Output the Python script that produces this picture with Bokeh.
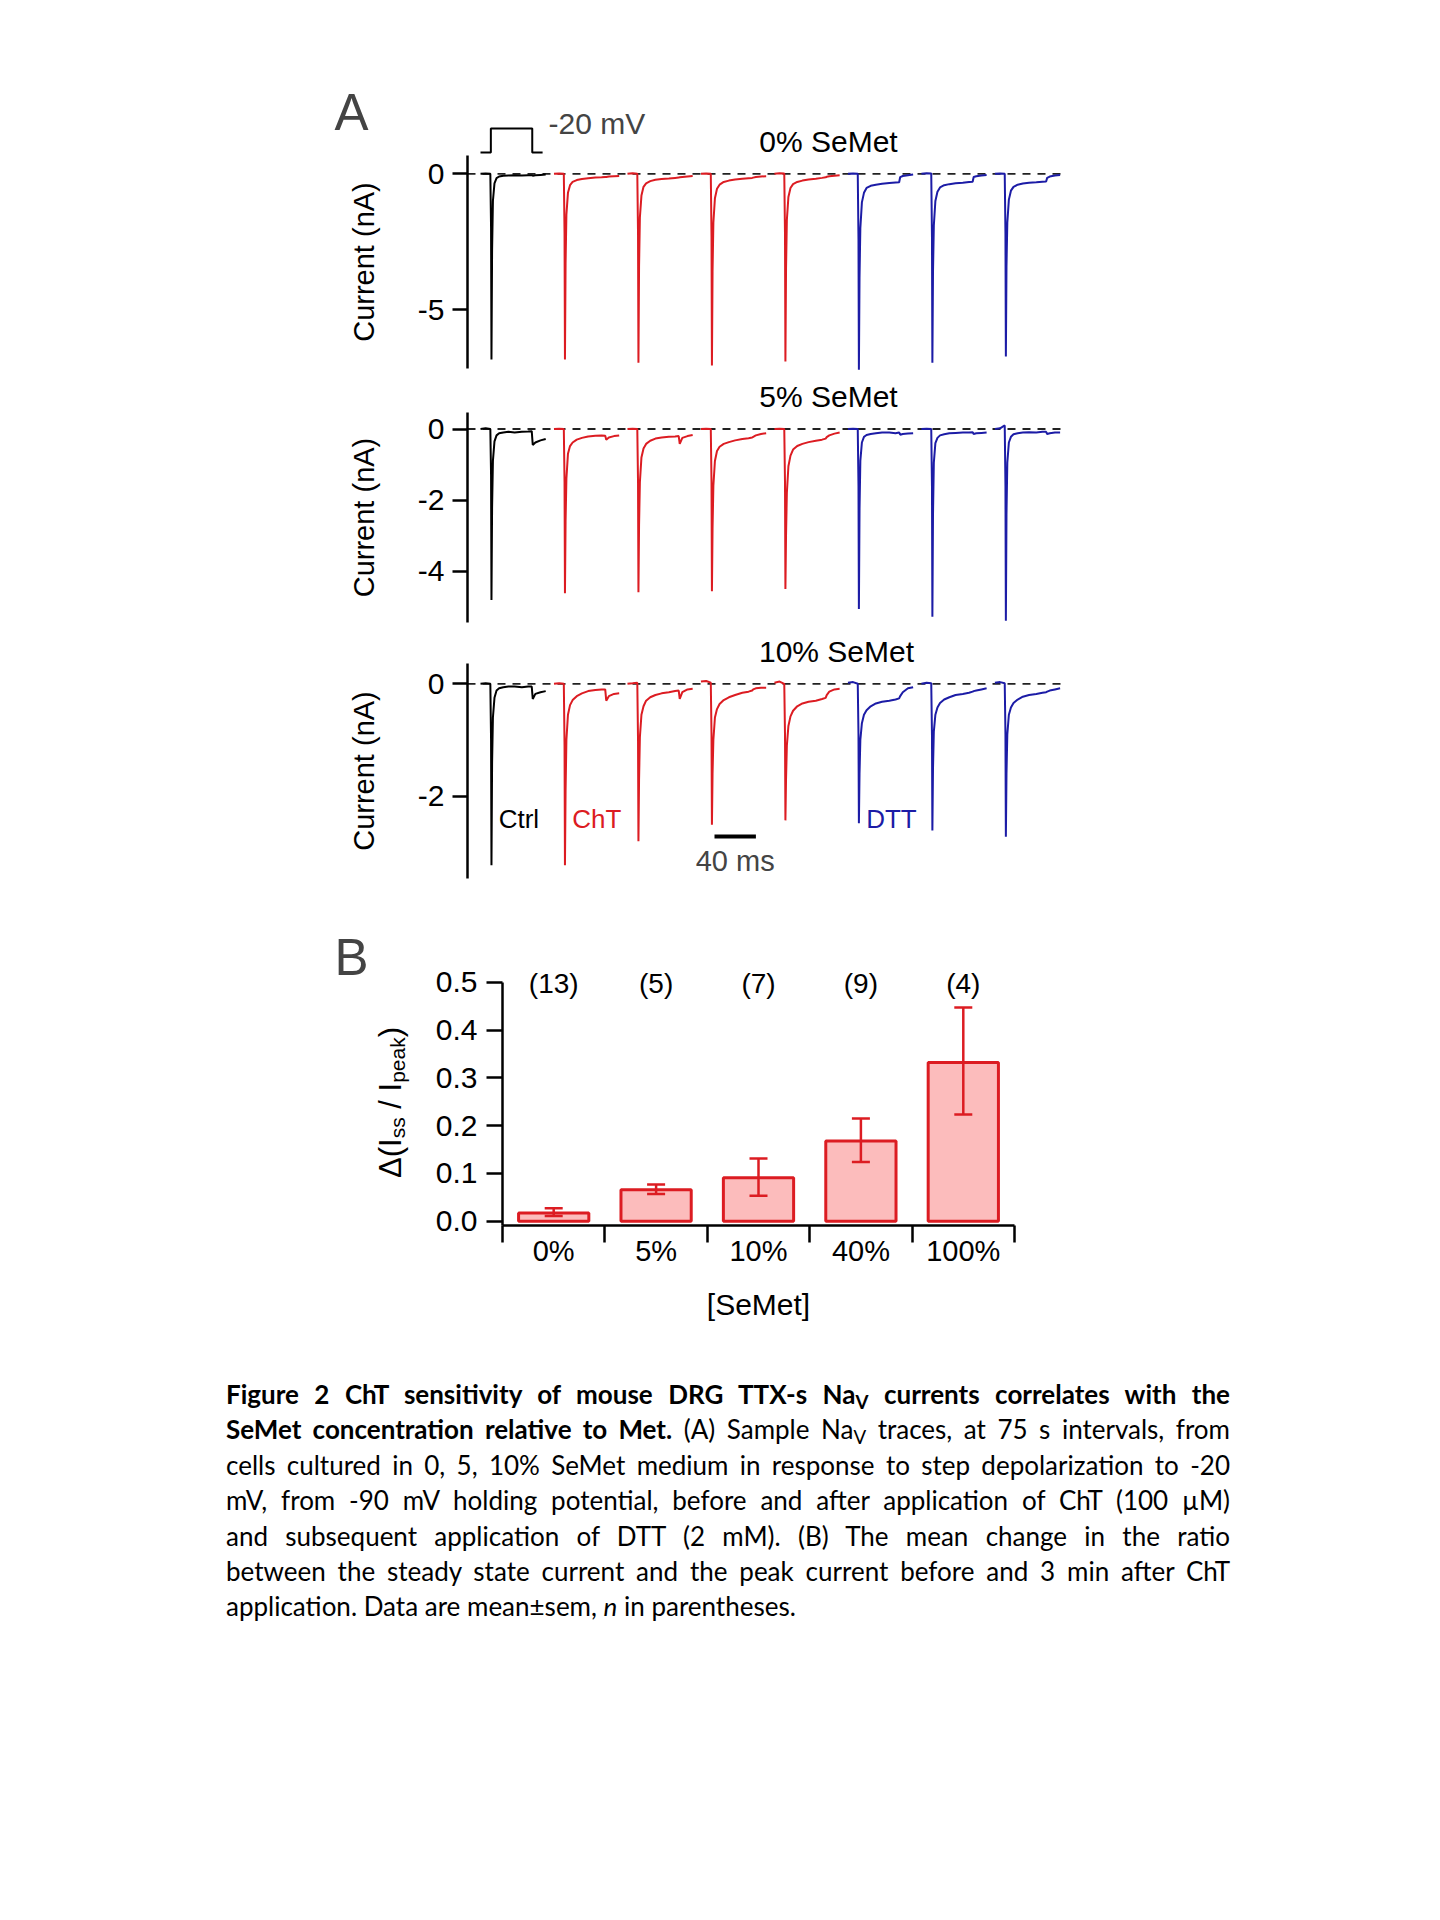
from math import pi
from bokeh.plotting import figure
from bokeh.models import (Range1d, FixedTicker, PrintfTickFormatter, Span, Label,
                          Whisker, TeeHead, ColumnDataSource, Div)
from bokeh.layouts import row
from bokeh.embed import file_html
from bokeh.resources import INLINE
from bokeh.core.properties import value

# ------------------------------------------------------------------ data
# time base (ms) of every sweep, relative to the start of the sweep
trace_t = [0, 5, 9.5, 10.2, 10.6, 11.2, 12, 13.5, 15.5, 18, 22, 27, 33, 40, 46, 49.5, 50.5, 53, 58, 63]
trace_spacing_ms = 71
conditions = ["Ctrl", "ChT", "ChT", "ChT", "ChT", "DTT", "DTT", "DTT"]

# current (nA) of the 8 sweeps, 0 % SeMet
semet_0 = [
    [0.0, 0.01, 0.0, -2.0, -6.83, -2.8, -1.0, -0.35, -0.16, -0.10, -0.07, -0.06, -0.05, -0.06, -0.05, -0.05, -0.07, -0.05, -0.04, -0.03],
    [0.0, 0.01, 0.0, -2.2, -6.83, -3.3, -1.5, -0.70, -0.42, -0.30, -0.23, -0.19, -0.16, -0.14, -0.13, -0.12, -0.12, -0.10, -0.09, -0.08],
    [0.0, 0.02, 0.0, -2.2, -6.95, -3.4, -1.6, -0.80, -0.48, -0.35, -0.27, -0.22, -0.19, -0.17, -0.15, -0.14, -0.13, -0.12, -0.10, -0.08],
    [0.0, 0.01, 0.0, -2.3, -7.05, -3.6, -1.8, -0.90, -0.55, -0.40, -0.30, -0.25, -0.21, -0.18, -0.16, -0.15, -0.14, -0.12, -0.10, -0.09],
    [0.0, 0.02, 0.01, -2.2, -6.90, -3.5, -1.7, -0.85, -0.52, -0.38, -0.30, -0.25, -0.21, -0.18, -0.15, -0.13, -0.11, -0.09, -0.07, -0.05],
    [0.0, 0.01, 0.0, -2.4, -7.20, -3.8, -2.0, -1.05, -0.70, -0.52, -0.44, -0.40, -0.37, -0.34, -0.32, -0.31, -0.12, -0.08, -0.05, -0.03],
    [0.0, 0.02, 0.01, -2.3, -6.95, -3.6, -1.9, -1.00, -0.66, -0.50, -0.42, -0.38, -0.35, -0.33, -0.30, -0.29, -0.12, -0.09, -0.06, -0.04],
    [0.0, 0.01, 0.0, -2.2, -6.72, -3.4, -1.8, -0.95, -0.62, -0.48, -0.40, -0.36, -0.33, -0.31, -0.29, -0.28, -0.15, -0.10, -0.06, -0.04],
]
# 5 % SeMet
semet_5 = [
    [0.0, 0.02, 0.0, -1.3, -4.82, -2.2, -0.90, -0.35, -0.18, -0.12, -0.10, -0.08, -0.10, -0.08, -0.07, -0.06, -0.45, -0.38, -0.32, -0.28],
    [0.0, 0.01, 0.0, -1.5, -4.63, -2.6, -1.40, -0.70, -0.48, -0.38, -0.30, -0.25, -0.21, -0.19, -0.18, -0.19, -0.30, -0.24, -0.20, -0.18],
    [0.0, 0.01, 0.0, -1.5, -4.60, -2.7, -1.50, -0.80, -0.55, -0.42, -0.33, -0.27, -0.24, -0.22, -0.21, -0.20, -0.42, -0.25, -0.20, -0.17],
    [0.0, 0.01, 0.0, -1.5, -4.57, -2.8, -1.60, -0.90, -0.62, -0.50, -0.42, -0.37, -0.32, -0.28, -0.26, -0.24, -0.22, -0.18, -0.14, -0.12],
    [0.0, 0.01, 0.0, -1.5, -4.51, -3.0, -1.80, -1.05, -0.75, -0.58, -0.48, -0.42, -0.37, -0.33, -0.30, -0.27, -0.23, -0.18, -0.13, -0.10],
    [0.0, 0.01, 0.0, -1.6, -5.07, -2.3, -0.90, -0.38, -0.22, -0.17, -0.14, -0.12, -0.10, -0.10, -0.12, -0.10, -0.16, -0.14, -0.13, -0.12],
    [0.0, 0.01, 0.0, -1.6, -5.29, -2.4, -0.95, -0.40, -0.25, -0.18, -0.15, -0.12, -0.11, -0.10, -0.10, -0.09, -0.14, -0.12, -0.11, -0.10],
    [0.0, 0.02, 0.10, -1.6, -5.40, -2.4, -0.95, -0.38, -0.22, -0.15, -0.12, -0.10, -0.09, -0.10, -0.08, -0.08, -0.14, -0.12, -0.10, -0.10],
]
# 10 % SeMet
semet_10 = [
    [0.0, 0.01, 0.0, -1.0, -3.23, -1.4, -0.60, -0.25, -0.12, -0.08, -0.06, -0.05, -0.05, -0.06, -0.05, -0.05, -0.27, -0.18, -0.15, -0.13],
    [0.0, 0.01, 0.0, -1.1, -3.23, -1.9, -1.00, -0.55, -0.38, -0.29, -0.22, -0.17, -0.13, -0.11, -0.10, -0.10, -0.30, -0.22, -0.18, -0.17],
    [0.0, 0.01, 0.02, -1.0, -2.80, -1.7, -0.95, -0.55, -0.40, -0.30, -0.24, -0.20, -0.17, -0.15, -0.13, -0.12, -0.27, -0.15, -0.10, -0.09],
    [0.04, 0.05, 0.02, -0.9, -2.51, -1.6, -1.00, -0.60, -0.45, -0.36, -0.29, -0.24, -0.20, -0.16, -0.14, -0.12, -0.10, -0.08, -0.07, -0.07],
    [0.02, 0.04, 0.0, -0.9, -2.43, -1.7, -1.10, -0.75, -0.58, -0.48, -0.40, -0.35, -0.32, -0.30, -0.27, -0.25, -0.20, -0.14, -0.10, -0.09],
    [0.02, 0.03, 0.0, -0.9, -2.48, -1.6, -1.00, -0.70, -0.55, -0.47, -0.40, -0.35, -0.32, -0.30, -0.28, -0.26, -0.22, -0.15, -0.08, -0.06],
    [0.0, 0.02, 0.01, -0.9, -2.61, -1.5, -0.85, -0.55, -0.42, -0.34, -0.28, -0.24, -0.20, -0.18, -0.16, -0.14, -0.13, -0.12, -0.10, -0.08],
    [0.02, 0.03, 0.01, -0.9, -2.72, -1.6, -0.90, -0.55, -0.42, -0.34, -0.28, -0.23, -0.20, -0.18, -0.16, -0.15, -0.14, -0.12, -0.10, -0.08],
]
panel_titles = ["0% SeMet", "5% SeMet", "10% SeMet"]
panel_ticks = [[0, -5], [0, -2, -4], [0, -2]]

# voltage protocol (inset)
protocol_t = [0, 10, 10, 50, 50, 60]
protocol_mv = [-90, -90, -20, -20, -90, -90]
step_label = "-20 mV"
scalebar_ms = 40

# panel B
bar_categories = ["0%", "5%", "10%", "40%", "100%"]
bar_mean = [0.017, 0.066, 0.091, 0.168, 0.332]
bar_lower = [0.011, 0.057, 0.053, 0.124, 0.223]
bar_upper = [0.027, 0.077, 0.131, 0.215, 0.447]
bar_n = ["(13)", "(5)", "(7)", "(9)", "(4)"]
b_ticks = [0.0, 0.1, 0.2, 0.3, 0.4, 0.5]

# ------------------------------------------------------------------ style
FONT = "Liberation Sans"
RED = "#dc1c22"
BLUE = "#1c1ca6"
PINK = "#fcbcbc"
COND_COLOR = {"Ctrl": "black", "ChT": RED, "DTT": BLUE}
PAGE_W = 1424
TICK_FS = "30px"
LABEL_FS = "30px"

# page-pixel geometry of panel A
X0_REF = 480.0          # x of t = 0 of the first sweep
PX_PER_MS = 1.035
FRAME_L, FRAME_R = 467, 1061
LW_A = 405              # width of the left strip that carries panel letter / axis title


def ms_at(rx):
    return (rx - X0_REF) / PX_PER_MS


def style_yaxis(ax, ticks, bounds, fmt, tick_len, standoff):
    ax.ticker = FixedTicker(ticks=ticks)
    ax.formatter = PrintfTickFormatter(format=fmt)
    ax.bounds = bounds
    ax.axis_line_width = 2.5
    ax.axis_line_color = "black"
    ax.major_tick_line_width = 2.5
    ax.major_tick_line_color = "black"
    ax.major_tick_out = tick_len
    ax.major_tick_in = 0
    ax.minor_tick_out = 0
    ax.minor_tick_in = 0
    ax.major_label_text_font = FONT
    ax.major_label_text_font_size = TICK_FS
    ax.major_label_text_color = "black"
    ax.major_label_standoff = standoff


def strip_fig(width, height, y_range, top, bottom):
    """axis-less strip left of a panel; x data = page pixels"""
    s = figure(width=width, height=height, title=None, x_range=Range1d(0, width), y_range=y_range,
               x_axis_location=None, y_axis_location=None, output_backend="svg",
               toolbar_location=None, min_border_left=0, min_border_right=0,
               min_border_top=top, min_border_bottom=bottom)
    s.grid.visible = False
    s.outline_line_color = None
    return s


panel_geom = [
    dict(zero=173.3, ppn=27.2, canvas_top=0, frame_top=90, frame_bot=380, axis_top=155, axis_bot=368, title_xy=(828, 141)),
    dict(zero=428.5, ppn=35.5, canvas_top=380, frame_top=380, frame_bot=630, axis_top=412, axis_bot=622, title_xy=(828, 396)),
    dict(zero=683.3, ppn=56.2, canvas_top=630, frame_top=630, frame_bot=920, axis_top=663, axis_bot=878, title_xy=(836, 651)),
]
panel_data = [semet_0, semet_5, semet_10]

roots = []
for i, (g, traces) in enumerate(zip(panel_geom, panel_data)):
    na = (lambda gg: (lambda ry: (gg["zero"] - ry) / gg["ppn"]))(g)
    h = g["frame_bot"] - g["canvas_top"]
    top = g["frame_top"] - g["canvas_top"]
    yr = Range1d(na(g["frame_bot"]), na(g["frame_top"]))
    main_w = PAGE_W - LW_A
    p = figure(width=main_w, height=h, title=None,
               x_range=Range1d(ms_at(FRAME_L), ms_at(FRAME_R)), y_range=yr,
               x_axis_location=None, output_backend="svg", toolbar_location=None,
               min_border_left=FRAME_L - LW_A, min_border_right=LW_A + main_w - FRAME_R,
               min_border_top=top, min_border_bottom=0)
    p.grid.visible = False
    p.outline_line_color = None
    style_yaxis(p.yaxis[0], panel_ticks[i], (na(g["axis_bot"]), na(g["axis_top"])), "%d", 15, 8)

    p.add_layout(Span(location=0, dimension="width", line_color="#222222", line_width=1.8,
                      line_dash="8 7", level="underlay"))
    xs = [[t + k * trace_spacing_ms for t in trace_t] for k in range(len(traces))]
    src = ColumnDataSource(dict(xs=xs, ys=traces, color=[COND_COLOR[c] for c in conditions]))
    p.multi_line("xs", "ys", source=src, line_color="color", line_width=2)

    tx, ty = g["title_xy"]
    p.add_layout(Label(x=ms_at(tx), y=na(ty), text=panel_titles[i], text_align="center",
                       text_baseline="middle", text_font=FONT, text_font_size=LABEL_FS, text_color="black"))

    s = strip_fig(LW_A, h, Range1d(na(g["frame_bot"]), na(g["frame_top"])), top, 0)
    s.add_layout(Label(x=363, y=na((g["axis_top"] + g["axis_bot"]) / 2), text="Current (nA)",
                       angle=pi / 2, text_align="center", text_baseline="middle",
                       text_font=FONT, text_font_size="29px", text_color="black"))

    if i == 0:
        s.add_layout(Label(x=351, y=na(111.5), text="A", text_align="center",
                           text_baseline="middle", text_font=FONT, text_font_size="51px"))
        mv_per_px = 70 / 24.0
        p.extra_y_ranges = {"mv": Range1d(-90 - (g["frame_bot"] - 152) * mv_per_px,
                                          -20 + (128 - g["frame_top"]) * mv_per_px)}
        p.line(protocol_t, protocol_mv, y_range_name="mv", line_color="black", line_width=2)
        p.add_layout(Label(x=ms_at(548), y=-20 + 5.5 * mv_per_px, y_range_name="mv", text=step_label,
                           text_align="left", text_baseline="middle", text_font=FONT,
                           text_font_size=LABEL_FS))
    if i == 2:
        seen = []
        for k, c in enumerate(conditions):
            if c in seen:
                continue
            seen.append(c)
            p.add_layout(Label(x=k * trace_spacing_ms + 17.6, y=na(818), text=c,
                               text_align="left", text_baseline="middle", text_font=FONT,
                               text_font_size="26px", text_color=COND_COLOR[c]))
        sb_start = ms_at(714)
        p.line([sb_start, sb_start + scalebar_ms], [na(836), na(836)], line_color="black", line_width=4)
        p.add_layout(Label(x=sb_start + scalebar_ms / 2, y=na(860), text=f"{scalebar_ms} ms",
                           text_align="center", text_baseline="middle", text_font=FONT,
                           text_font_size="29px"))
    roots.append(row(s, p))

# ------------------------------------------------------------------ panel B
LW_B = 420
B_L, B_R = 502, 1014
B_ZERO, B_PX = 1220.7, 478.0


def bval(ry):
    return (B_ZERO - ry) / B_PX


B_TOP_CANVAS, B_FRAME_TOP, B_FRAME_BOT, B_BOT_CANVAS = 920, 930, 1225, 1355
bh = B_BOT_CANVAS - B_TOP_CANVAS
btop = B_FRAME_TOP - B_TOP_CANVAS
bbot = B_BOT_CANVAS - B_FRAME_BOT
bw = PAGE_W - LW_B
pB = figure(width=bw, height=bh, title=None,
            x_range=Range1d(0, len(bar_categories)),
            y_range=Range1d(bval(B_FRAME_BOT), bval(B_FRAME_TOP)),
            output_backend="svg", toolbar_location=None,
            min_border_left=B_L - LW_B, min_border_right=LW_B + bw - B_R,
            min_border_top=btop, min_border_bottom=bbot)
pB.grid.visible = False
pB.outline_line_color = None
style_yaxis(pB.yaxis[0], b_ticks, (bval(B_FRAME_BOT), 0.5), "%.1f", 16, 9)

centers = [i + 0.5 for i in range(len(bar_categories))]
xa = pB.xaxis[0]
xa.ticker = FixedTicker(ticks=centers, minor_ticks=list(range(len(bar_categories) + 1)))
xa.major_label_overrides = {c: lab for c, lab in zip(centers, bar_categories)}
xa.axis_line_width = 2.5
xa.axis_line_color = "black"
xa.major_tick_out = 0
xa.major_tick_in = 0
xa.major_tick_line_color = None
xa.minor_tick_out = 17
xa.minor_tick_in = 0
xa.minor_tick_line_width = 2.5
xa.minor_tick_line_color = "black"
xa.major_label_text_font = FONT
xa.major_label_text_font_size = "29px"
xa.major_label_text_color = "black"
xa.major_label_standoff = -8
xa.axis_label = "[SeMet]"
xa.axis_label_text_font = FONT
xa.axis_label_text_font_size = LABEL_FS
xa.axis_label_text_font_style = "normal"
xa.axis_label_text_color = "black"
xa.axis_label_standoff = 18

bsrc = ColumnDataSource(dict(x=centers, mean=bar_mean, lower=bar_lower, upper=bar_upper, n=bar_n))
pB.vbar(x="x", top="mean", bottom=0, width=0.686, source=bsrc,
        fill_color=PINK, line_color=RED, line_width=3)
pB.add_layout(Whisker(source=bsrc, base="x", lower="lower", upper="upper", dimension="height",
                      level="annotation", line_color=RED, line_width=2.5,
                      upper_head=TeeHead(size=18, line_color=RED, line_width=2.5),
                      lower_head=TeeHead(size=18, line_color=RED, line_width=2.5)))
pB.text(x="x", y=0.5, text="n", source=bsrc, text_align="center", text_baseline="middle",
        y_offset=1, text_font=value(FONT), text_font_size="28px", text_color="black")

sB = strip_fig(LW_B, bh, Range1d(bval(B_FRAME_BOT), bval(B_FRAME_TOP)), btop, bbot)
sB.add_layout(Label(x=351, y=bval(957), text="B", text_align="center", text_baseline="middle",
                    text_font=FONT, text_font_size="51px"))
# y-axis title with subscripts, composed from pieces (rotated, reading upwards)
main_fs, sub_fs = 31, 21
NB = "\u00a0"
pieces = [("\u0394(I", main_fs, 0.0, 1.279), ("ss", sub_fs, 7.0, 1.0),
          (NB + "/" + NB + "I", main_fs, 0.0, 1.112),
          ("peak", sub_fs, 7.0, 2.168), (")", main_fs, 0.0, 0.333)]
total = sum(fs * w for _, fs, _, w in pieces)
pos = 1102 + total / 2
for txt, fs, shift, w in pieces:
    sB.add_layout(Label(x=390 + shift, y=bval(pos), text=txt, angle=pi / 2, text_align="left",
                        text_baseline="alphabetic", text_font=FONT, text_font_size=f"{fs}px",
                        text_color="black"))
    pos -= fs * w
roots.append(row(sB, pB))

# ------------------------------------------------------------------ caption
sub = '<span style="font-size:0.72em;vertical-align:-0.28em;line-height:0">V</span>'
cap_lines = [
    f"<b>Figure 2 ChT sensitivity of mouse DRG TTX-s Na{sub} currents correlates with the</b>",
    f"<b>SeMet concentration relative to Met.</b> (A) Sample Na{sub} traces, at 75 s intervals, from",
    "cells cultured in 0, 5, 10% SeMet medium in response to step depolarization to -20",
    "mV, from -90 mV holding potential, before and after application of ChT (100 \u00b5M)",
    "and subsequent application of DTT (2 mM). (B) The mean change in the ratio",
    "between the steady state current and the peak current before and 3 min after ChT",
    "application. Data are mean\u00b1sem, <i>n</i> in parentheses.",
]
rows_html = []
for j, ln in enumerate(cap_lines):
    last = j == len(cap_lines) - 1
    al = "text-align:left;" if last else "text-align:justify;text-align-last:justify;"
    rows_html.append(f'<div style="{al}height:35.4px;line-height:35.4px;">{ln}</div>')
caption_html = ('<div style="margin-left:221px;margin-top:17px;width:1004px;font-family:Lato,sans-serif;'
                'font-size:26px;color:#000;">' + "".join(rows_html) + "</div>")
cap = Div(text=caption_html, width=PAGE_W, height=320)
roots.append(cap)

open("out.html", "w").write(file_html(roots, INLINE))
